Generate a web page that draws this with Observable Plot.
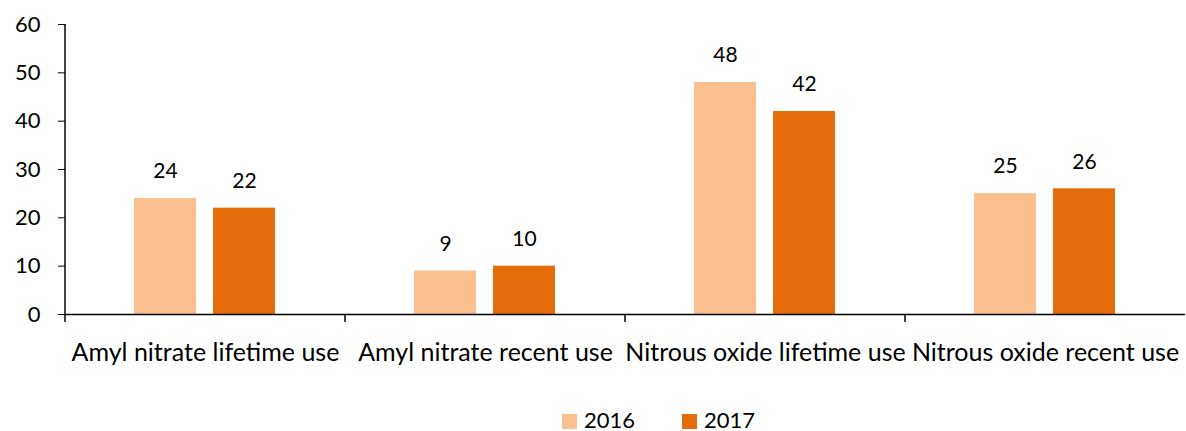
<!DOCTYPE html>
<html>
<head>
<meta charset="utf-8">
<script src="https://cdn.jsdelivr.net/npm/d3@7"></script>
<script src="https://cdn.jsdelivr.net/npm/@observablehq/plot@0.6"></script>
<style>
  body { margin: 0; background: #fff; font-family: Lato, sans-serif; }
  #legend { display: flex; align-items: center; margin-top: 29px; padding-left: 562px; font: 22px Lato, sans-serif; color: #000; line-height: 22px; }
  .item { display: flex; align-items: center; margin-right: 47px; }
  .sw { width: 15px; height: 15px; margin-right: 7px; margin-top: 3px; }
</style>
</head>
<body>
<div id="chart"></div>
<div id="legend"></div>
<script>
const categories = ["Amyl nitrate lifetime use", "Amyl nitrate recent use", "Nitrous oxide lifetime use", "Nitrous oxide recent use"];
const years = ["2016", "2017"];
const values2016 = [24, 9, 48, 25];
const values2017 = [22, 10, 42, 26];
const yTicks = [0, 10, 20, 30, 40, 50, 60];
const colors = ["#FAC090", "#E46C0A"];

const data = categories.flatMap((c, i) => [
  {category: c, year: years[0], value: values2016[i]},
  {category: c, year: years[1], value: values2017[i]}
]);

const chart = Plot.plot({
  width: 1186,
  height: 380,
  marginLeft: 63,
  marginRight: 0,
  marginTop: 24,
  marginBottom: 66,
  style: {fontFamily: "Lato, sans-serif", fontSize: "22px", color: "#000", background: "white", overflow: "visible"},
  fx: {domain: categories, padding: 0, label: null, tickSize: 0, tickPadding: 29, axis: "bottom"},
  x: {domain: years, axis: null, paddingInner: 0.2125, paddingOuter: 0.87},
  y: {domain: [0, 60], ticks: yTicks, tickSize: 7, tickPadding: 18, label: null},
  color: {domain: years, range: colors},
  marks: [
    Plot.barY(data, {fx: "category", x: "year", y: "value", fill: "year"}),
    Plot.ruleY([0], {stroke: "#000", strokeWidth: 1.5}),
    Plot.text(data, {fx: "category", x: "year", y: "value", text: d => String(d.value), dy: -27, lineAnchor: "middle", fontSize: 21, fill: "#000"})
  ]
});

document.getElementById("chart").appendChild(chart);

const svg = d3.select(chart);
// Larger category labels
svg.selectAll('g[aria-label^="fx-axis"]').style("font-size", "25px");

// Axis line and category boundary ticks, positioned from Plot's own scales
const fx = chart.scale("fx");
const y = chart.scale("y");
const g = svg.append("g").attr("stroke", "#000").attr("stroke-width", 1.5);
const y0 = y.apply(0);
const yTop = y.apply(60);
const xLeft = fx.apply(categories[0]);
g.append("line").attr("x1", xLeft).attr("x2", xLeft).attr("y1", yTop).attr("y2", y0 + 8);
categories.slice(1).forEach(c => {
  const xx = fx.apply(c);
  g.append("line").attr("x1", xx).attr("x2", xx).attr("y1", y0).attr("y2", y0 + 8);
});

// Legend
const legend = d3.select("#legend");
years.forEach((yr, i) => {
  const it = legend.append("div").attr("class", "item");
  it.append("div").attr("class", "sw").style("background", colors[i]);
  it.append("span").text(yr);
});
</script>
</body>
</html>
